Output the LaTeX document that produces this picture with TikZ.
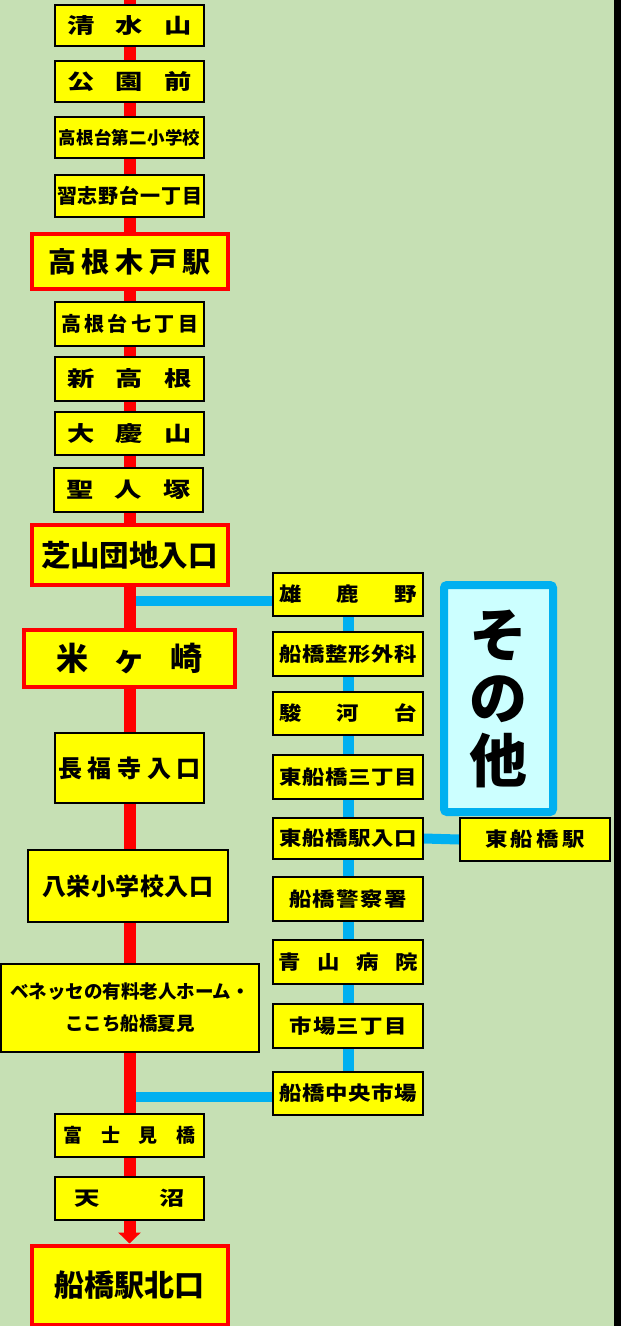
\documentclass[tikz,border=0pt]{standalone}
\usepackage{fontspec}
\setmainfont{Noto Sans CJK JP}
\newfontfamily\jpw{Noto Sans CJK JP}[FakeStretch=1.3]
\newfontfamily\jpm{Noto Sans CJK JP}[FakeStretch=1.15]
\usetikzlibrary{arrows.meta}
\definecolor{bggreen}{RGB}{198,224,180}
\definecolor{byellow}{RGB}{255,255,0}
\definecolor{lblue}{RGB}{0,176,240}
\definecolor{lcyan}{RGB}{204,255,255}
\newcommand\spr[2]{\makebox[#1][s]{\spaceskip=0pt plus 1fil\xspaceskip=0pt plus 1fil\relax #2}}
\newcommand\fs[1]{\fontsize{#1}{#1}\selectfont}
\pgfdeclarelayer{bglayer}
\pgfdeclarelayer{linelayer}
\pgfsetlayers{bglayer,linelayer,main}
\begin{document}
\begin{tikzpicture}[x=1pt,y=-1pt,
  sbox/.style={draw=black,line width=1.5pt,fill=byellow,inner sep=0pt,anchor=center,font=\bfseries},
  rbox/.style={draw=red,line width=4pt,fill=byellow,inner sep=0pt,anchor=center,font=\bfseries},
  sz/.style 2 args={minimum width=#1,minimum height=#2},
  redline/.style={draw=red,line width=12pt,-{Triangle[width=22pt,length=11pt]}},
  blueline/.style={draw=lblue,line width=11pt},
  bluehline/.style={draw=lblue,line width=10pt}]
\useasboundingbox (0,0) rectangle (621,1326);
\begin{pgfonlayer}{bglayer}
\fill[bggreen] (0,0) rectangle (614,1326);
\fill[black] (614,0) rectangle (621,1326);
\end{pgfonlayer}
% left column
\coordinate (top) at (129.5,0);
\node[sbox,sz={149pt}{41pt}] (shimizu) at (129.5,25.5) {\jpw\fs{21}\spr{124pt}{清 水 山}};
\node[sbox,sz={149pt}{41pt}] (koen) at (129.5,81.5) {\jpw\fs{21}\spr{124pt}{公 園 前}};
\node[sbox,sz={149pt}{41pt}] (dai2) at (129.5,137.5) {\fs{17.5}\spr{142pt}{高 根 台 第 二 小 学 校}};
\node[sbox,sz={149pt}{42pt}] (narashino) at (129.5,196) {\fs{20}\spr{145pt}{習 志 野 台 一 丁 目}};
\node[rbox,sz={196pt}{55pt}] (takanekido) at (129.5,261.5) {\fs{28}\spr{163pt}{高 根 木 戸 駅}};
\node[sbox,sz={149pt}{44pt}] (nana) at (129.5,324) {\fs{20}\spr{137pt}{高 根 台 七 丁 目}};
\node[sbox,sz={149pt}{44pt}] (shintakane) at (129.5,379) {\jpw\fs{21}\spr{124pt}{新 高 根}};
\node[sbox,sz={149pt}{43pt}] (taikei) at (129.5,433.5) {\jpw\fs{21}\spr{124pt}{大 慶 山}};
\node[sbox,sz={149pt}{44pt}] (seijin) at (128.5,490) {\jpw\fs{21}\spr{124pt}{聖 人 塚}};
\node[rbox,sz={196pt}{60pt}] (shibayama) at (129.5,555) {\fs{29.5}芝山団地入口};
\node[rbox,sz={211pt}{57pt}] (yonegasaki) at (129.5,658.5) {\fs{32}\spr{147pt}{米 ヶ 崎}};
\node[sbox,sz={149pt}{70pt}] (chofukuji) at (129.5,768) {\fs{24}\spr{143pt}{長 福 寺 入 口}};
\node[sbox,sz={200pt}{72pt}] (hachiei) at (128,886) {\fs{24}\spr{171pt}{八 栄 小 学 校 入 口}};
\node[sbox,sz={258pt}{88pt},align=center,font=\bfseries\fontsize{18.5}{32}\selectfont] (benesse) at (130,1008) {ベネッセの有料老人ホーム・\\ここち船橋夏見};
\node[sbox,sz={149pt}{43pt}] (fujimi) at (129.5,1135.5) {\fs{19}\spr{132pt}{富 士 見 橋}};
\node[sbox,sz={149pt}{43pt}] (amanuma) at (129.5,1198.5) {\jpw\fs{19.5}\spr{110pt}{天 沼}};
\node[rbox,sz={196pt}{79pt}] (kitaguchi) at (129.5,1285) {\fs{30}船橋駅北口};
% right column
\node[sbox,sz={150pt}{43pt}] (oshika) at (348,594.5) {\jpm\fs{19.5}\spr{138pt}{雄 鹿 野}};
\node[sbox,sz={150pt}{44pt}] (seikei) at (348,654) {\jpm\fs{19.5}\spr{137pt}{船 橋 整 形 外 科}};
\node[sbox,sz={150pt}{43pt}] (surugadai) at (348,713.5) {\jpm\fs{19.5}\spr{138pt}{駿 河 台}};
\node[sbox,sz={150pt}{44pt}] (hf3) at (348,777) {\jpm\fs{19.5}\spr{137pt}{東 船 橋 三 丁 目}};
\node[sbox,sz={150pt}{41pt}] (hfiri) at (348,838.5) {\jpm\fs{19.5}\spr{137pt}{東 船 橋 駅 入 口}};
\node[sbox,sz={150pt}{43pt}] (hfeki) at (535,839.5) {\jpm\fs{19.5}\spr{100pt}{東 船 橋 駅}};
\node[sbox,sz={150pt}{44pt}] (keisatsu) at (348,899) {\jpm\fs{19.5}\spr{118pt}{船 橋 警 察 署}};
\node[sbox,sz={150pt}{44pt}] (aoyama) at (348,962) {\jpm\fs{19.5}\spr{140pt}{青 山 病 院}};
\node[sbox,sz={150pt}{44pt}] (ichiba3) at (348,1026) {\jpm\fs{19.5}\spr{117pt}{市 場 三 丁 目}};
\node[sbox,sz={150pt}{43pt}] (chuo) at (348,1093.5) {\jpm\fs{19.5}\spr{137pt}{船 橋 中 央 市 場}};
% sonota
\node[draw=lblue,line width=8pt,fill=lcyan,rounded corners=3pt,inner sep=0pt,
  minimum width=109pt,minimum height=227pt,align=center,
  font=\bfseries\fontsize{58}{63}\selectfont] (sonota) at (498.5,698.5) {そ\\の\\他};
% connectors
\begin{pgfonlayer}{linelayer}
\draw[bluehline] ([yshift=-6pt]oshika.west) -- ([yshift=-6pt]oshika.west -| top);
\draw[bluehline] ([yshift=-3.5pt]chuo.west) -- ([yshift=-3.5pt]chuo.west -| top);
\draw[bluehline] (hfiri.east) -- (hfeki.west);
\draw[blueline] (oshika.south) -- (chuo.north);
\draw[redline] (top) -- (kitaguchi.north -| top);
\end{pgfonlayer}
\end{tikzpicture}
\end{document}
